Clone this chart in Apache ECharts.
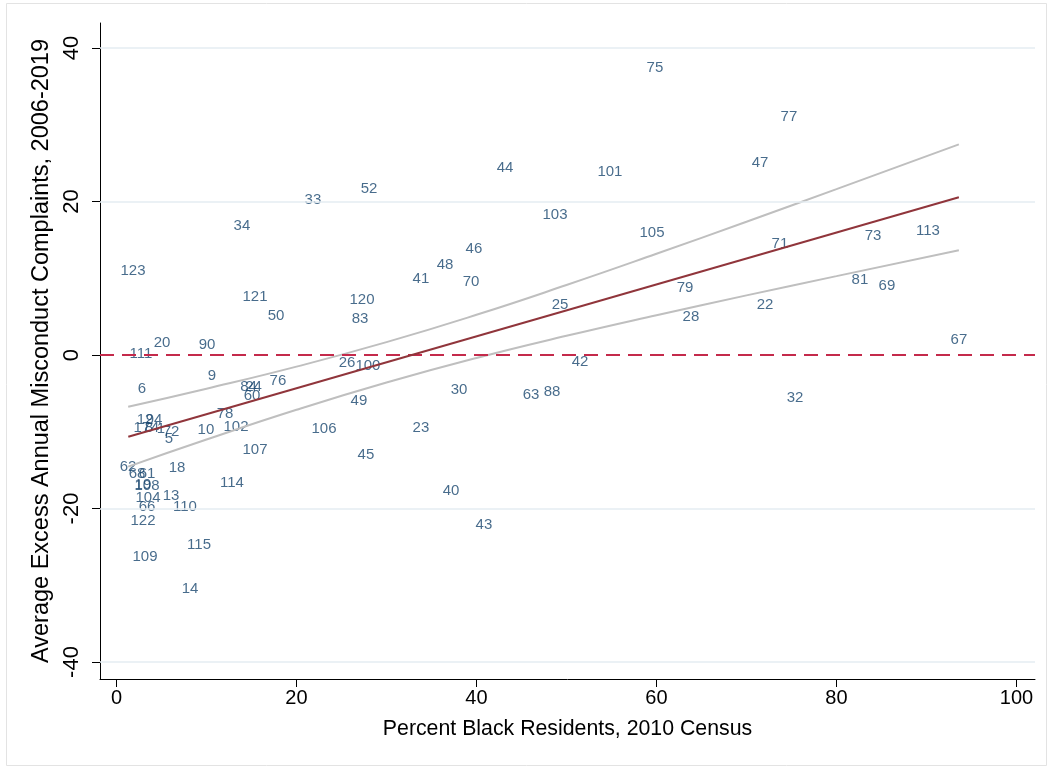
<!DOCTYPE html>
<html>
<head>
<meta charset="utf-8">
<script src="https://cdn.jsdelivr.net/npm/echarts@6/dist/echarts.min.js"></script>
<style>
  html, body { margin: 0; padding: 0; background: #fff; }
  #chart { width: 1052px; height: 770px; }
</style>
</head>
<body>
<div id="chart"></div>
<script>
// department labels, % black residents, excess complaints
const deptLabels = ['75','77','47','44','101','52','33','103','34','105','73','113','71','46','48','123','41','70','81','69',
  '79','121','120','25','22','50','83','28','67','20','90','111','42','26','100','9','76','6','84','24',
  '60','30','88','63','32','49','78','12','94','17','8','4','1','72','5','10','102','106','23','107',
  '45','62','18','68','61','19','108','114','40','104','13','66','110','122','43','115','109','14'];
const pctBlack = [59.83,74.72,71.5,43.17,54.83,28.06,21.83,48.72,13.94,59.5,84.06,90.17,73.72,39.72,36.5,1.83,33.83,39.39,82.61,85.61,
  63.17,15.39,27.28,49.28,72.06,17.72,27.06,63.83,93.61,5.06,10.06,2.72,51.5,25.61,27.94,10.61,17.94,2.83,14.67,15.22,
  15.06,38.06,48.39,46.06,75.39,26.94,12.06,3.17,4.17,2.83,3.61,4.28,4.94,6.06,5.83,9.94,13.28,23.06,33.83,15.39,
  27.72,1.28,6.72,2.28,3.39,2.94,3.39,12.83,37.17,3.5,6.06,3.39,7.61,2.94,40.83,9.17,3.17,8.17];
const excessComplaints = [37.39,31.01,25.02,24.36,23.84,21.63,20.2,18.24,16.81,15.9,15.5,16.16,14.46,13.81,11.73,10.94,9.9,9.51,9.77,8.99,
  8.73,7.56,7.17,6.51,6.51,5.08,4.69,4.95,1.95,1.63,1.3,0.13,-0.91,-1.04,-1.43,-2.67,-3.39,-4.43,-4.17,-4.17,
  -5.34,-4.56,-4.82,-5.21,-5.6,-5.99,-7.69,-8.47,-8.47,-9.51,-9.51,-9.51,-9.64,-10.03,-10.94,-9.77,-9.38,-9.64,-9.51,-12.38,
  -13.03,-14.59,-14.72,-15.5,-15.5,-16.94,-17.07,-16.68,-17.72,-18.63,-18.37,-19.8,-19.8,-21.63,-22.15,-24.76,-26.32,-30.49];

// fitted line and 95% CI
const fitX = [1.31, 93.6];
const fitY = [-10.64, 20.55];
const ciX = [1.3, 10, 20, 30, 40, 50, 60, 70, 80, 93.6];
const ciUpper = [-6.74, -4.39, -1.51, 1.68, 5.24, 9.12, 13.19, 17.37, 21.62, 27.45];
const ciLower = [-14.54, -11.01, -7.13, -3.58, -0.38, 2.5, 5.19, 7.77, 10.28, 13.65];

const xTicks = [0, 20, 40, 60, 80, 100];
const yTicks = [-40, -20, 0, 20, 40];

const font = "'Liberation Sans', Arial, sans-serif";
const chart = echarts.init(document.getElementById('chart'));

chart.setOption({
  animation: false,
  backgroundColor: '#fff',
  textStyle: { fontFamily: font },
  graphic: [{
    type: 'rect', silent: true, z: -10,
    shape: { x: 6.5, y: 3.5, width: 1040, height: 762 },
    style: { fill: 'none', stroke: '#e3e3e3', lineWidth: 1 }
  }],
  grid: { left: 100, right: 17, top: 23, bottom: 91 },
  xAxis: {
    type: 'value', min: -1.833, max: 102.06,
    name: 'Percent Black Residents, 2010 Census',
    nameLocation: 'middle', nameGap: 40,
    nameTextStyle: { fontSize: 21.3, color: '#000', fontFamily: font },
    axisLine: { show: true, onZero: false, lineStyle: { color: '#000', width: 1 } },
    axisTick: { show: true, customValues: xTicks, length: 8, lineStyle: { color: '#000', width: 1 } },
    axisLabel: { customValues: xTicks, fontSize: 20, color: '#000', margin: 9, fontFamily: font },
    splitLine: { show: false }
  },
  yAxis: {
    type: 'value', min: -42.21, max: 43.26,
    name: 'Average Excess Annual Misconduct Complaints, 2006-2019',
    nameLocation: 'middle', nameGap: 41, nameRotate: 90,
    nameTextStyle: { fontSize: 23.5, color: '#000', fontFamily: font },
    axisLine: { show: true, onZero: false, lineStyle: { color: '#000', width: 1 } },
    axisTick: { show: true, customValues: yTicks, length: 8, lineStyle: { color: '#000', width: 1 } },
    axisLabel: { customValues: yTicks, rotate: 90, fontSize: 22, color: '#000', margin: 17, fontFamily: font },
    splitLine: { show: false }
  },
  series: [
    {
      name: 'grid', type: 'line', data: [], z: 1, silent: true,
      markLine: {
        silent: true, symbol: 'none', label: { show: false },
        lineStyle: { color: '#e4edf2', width: 1.5, type: 'solid' },
        data: yTicks.filter(v => v !== 0).map(v => ({ yAxis: v }))
      }
    },
    {
      name: 'departments', type: 'scatter', z: 3,
      symbolSize: 1,
      itemStyle: { color: 'rgba(0,0,0,0)' },
      label: {
        show: true, position: 'inside',
        formatter: p => p.value[2],
        color: '#1a476f', fontSize: 15, fontFamily: font
      },
      emphasis: { disabled: true },
      data: pctBlack.map((x, i) => [x, excessComplaints[i], deptLabels[i]])
    },
    {
      name: 'upper', type: 'line', symbol: 'none', smooth: true, z: 4, silent: true,
      lineStyle: { color: '#bfbfbf', width: 2 },
      data: ciX.map((x, i) => [x, ciUpper[i]])
    },
    {
      name: 'lower', type: 'line', symbol: 'none', smooth: true, z: 4, silent: true,
      lineStyle: { color: '#bfbfbf', width: 2 },
      data: ciX.map((x, i) => [x, ciLower[i]])
    },
    {
      name: 'fit', type: 'line', symbol: 'none', z: 5, silent: true,
      lineStyle: { color: '#90353b', width: 2 },
      data: fitX.map((x, i) => [x, fitY[i]])
    },
    {
      name: 'zero', type: 'line', data: [], z: 6, silent: true,
      markLine: {
        silent: true, symbol: 'none', label: { show: false },
        lineStyle: { color: '#c42a4b', width: 2, type: [14, 8] },
        data: [{ yAxis: 0 }]
      }
    }
  ]
});
</script>
</body>
</html>
